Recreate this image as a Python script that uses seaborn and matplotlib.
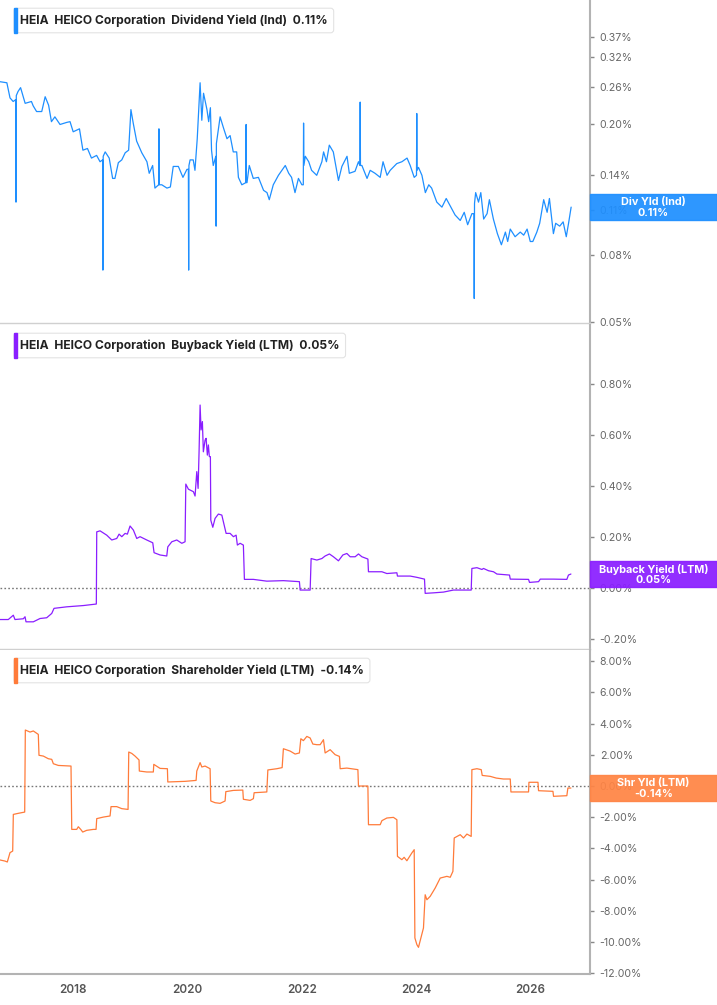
import numpy as np
import pandas as pd
import matplotlib
matplotlib.use("Agg")
import matplotlib.pyplot as plt
import seaborn as sns
from matplotlib.patches import Rectangle
from matplotlib.ticker import FixedLocator, NullLocator

# ---- data (decimal year, percent) ----
div_years = [2016.72, 2016.84, 2016.895, 2016.95, 2016.995, 2017.00, 2017.005, 2017.035, 2017.08, 2017.16,
             2017.27, 2017.30, 2017.36, 2017.45, 2017.51, 2017.57, 2017.62, 2017.68, 2017.77, 2017.89,
             2017.945, 2018.00, 2018.11, 2018.17, 2018.25, 2018.32, 2018.41, 2018.47, 2018.515, 2018.52,
             2018.525, 2018.56, 2018.63, 2018.69, 2018.73, 2018.79, 2018.85, 2018.91, 2018.97, 2019.01,
             2019.05, 2019.11, 2019.20, 2019.29, 2019.33, 2019.39, 2019.43, 2019.495, 2019.50, 2019.505,
             2019.55, 2019.64, 2019.70, 2019.75, 2019.84, 2019.92, 2019.99, 2020.015, 2020.02, 2020.025,
             2020.045, 2020.10, 2020.13, 2020.17, 2020.22, 2020.25, 2020.28, 2020.34, 2020.37, 2020.40,
             2020.42, 2020.45, 2020.495, 2020.50, 2020.505, 2020.57, 2020.63, 2020.69, 2020.745, 2020.80,
             2020.86, 2020.89, 2020.95, 2021.02, 2021.025, 2021.03, 2021.04, 2021.08, 2021.15, 2021.24,
             2021.33, 2021.39, 2021.43, 2021.50, 2021.59, 2021.71, 2021.77, 2021.82, 2021.88, 2021.94,
             2022.00, 2022.025, 2022.03, 2022.035, 2022.06, 2022.12, 2022.17, 2022.26, 2022.35, 2022.38,
             2022.43, 2022.48, 2022.55, 2022.64, 2022.70, 2022.79, 2022.83, 2022.93, 2022.99, 2023.015,
             2023.02, 2023.025, 2023.05, 2023.14, 2023.195, 2023.28, 2023.37, 2023.42, 2023.49, 2023.545,
             2023.66, 2023.75, 2023.84, 2023.895, 2023.965, 2024.005, 2024.01, 2024.015, 2024.04, 2024.10,
             2024.16, 2024.22, 2024.27, 2024.36, 2024.45, 2024.525, 2024.595, 2024.68, 2024.77, 2024.84,
             2024.90, 2024.975, 2025.01, 2025.015, 2025.02, 2025.04, 2025.09, 2025.13, 2025.18, 2025.24,
             2025.28, 2025.35, 2025.42, 2025.49, 2025.56, 2025.60, 2025.645, 2025.73, 2025.82, 2025.88,
             2025.94, 2025.995, 2026.04, 2026.11, 2026.16, 2026.23, 2026.29, 2026.33, 2026.36, 2026.40,
             2026.44, 2026.51, 2026.57, 2026.625, 2026.665, 2026.71]
div_yield = [0.270, 0.268, 0.241, 0.235, 0.238, 0.116, 0.245, 0.252, 0.259, 0.232,
             0.235, 0.228, 0.219, 0.219, 0.243, 0.229, 0.204, 0.211, 0.200, 0.203,
             0.204, 0.190, 0.194, 0.167, 0.169, 0.158, 0.161, 0.154, 0.156, 0.072,
             0.160, 0.165, 0.158, 0.137, 0.137, 0.153, 0.156, 0.164, 0.167, 0.222,
             0.202, 0.178, 0.164, 0.154, 0.142, 0.150, 0.128, 0.131, 0.194, 0.131,
             0.131, 0.128, 0.129, 0.149, 0.149, 0.138, 0.146, 0.146, 0.072, 0.150,
             0.156, 0.156, 0.145, 0.181, 0.268, 0.206, 0.249, 0.222, 0.204, 0.225,
             0.167, 0.150, 0.160, 0.098, 0.175, 0.211, 0.195, 0.181, 0.185, 0.165,
             0.165, 0.138, 0.131, 0.133, 0.200, 0.133, 0.133, 0.150, 0.137, 0.138,
             0.126, 0.124, 0.118, 0.131, 0.140, 0.150, 0.142, 0.138, 0.124, 0.137,
             0.131, 0.131, 0.202, 0.150, 0.160, 0.154, 0.145, 0.140, 0.154, 0.165,
             0.154, 0.173, 0.165, 0.135, 0.149, 0.160, 0.142, 0.144, 0.154, 0.150,
             0.234, 0.150, 0.150, 0.137, 0.145, 0.142, 0.138, 0.154, 0.140, 0.145,
             0.152, 0.154, 0.158, 0.150, 0.138, 0.140, 0.216, 0.145, 0.148, 0.140,
             0.124, 0.131, 0.128, 0.116, 0.112, 0.119, 0.113, 0.106, 0.102, 0.108,
             0.099, 0.107, 0.107, 0.059, 0.115, 0.124, 0.116, 0.124, 0.103, 0.107,
             0.118, 0.103, 0.093, 0.086, 0.094, 0.088, 0.096, 0.091, 0.094, 0.092,
             0.096, 0.088, 0.088, 0.094, 0.100, 0.118, 0.108, 0.119, 0.107, 0.093,
             0.100, 0.098, 0.101, 0.091, 0.100, 0.112]

buy_years = [2016.72, 2016.865, 2016.953, 2016.982, 2017.128, 2017.158, 2017.175, 2017.303, 2017.42, 2017.537,
             2017.625, 2017.665, 2017.887, 2018.178, 2018.405, 2018.412, 2018.47, 2018.587, 2018.675, 2018.762,
             2018.803, 2018.85, 2018.908, 2018.948, 2018.995, 2019.053, 2019.112, 2019.17, 2019.287, 2019.392,
             2019.415, 2019.52, 2019.637, 2019.655, 2019.725, 2019.812, 2019.90, 2019.957, 2019.97, 2020.015,
             2020.103, 2020.132, 2020.162, 2020.185, 2020.202, 2020.22, 2020.237, 2020.26, 2020.277, 2020.307,
             2020.325, 2020.347, 2020.365, 2020.382, 2020.40, 2020.407, 2020.442, 2020.482, 2020.54, 2020.60,
             2020.627, 2020.675, 2020.745, 2020.803, 2020.85, 2020.872, 2020.92, 2020.977, 2020.995, 2021.152,
             2021.387, 2021.677, 2021.957, 2021.97, 2022.145, 2022.162, 2022.262, 2022.35, 2022.407, 2022.482,
             2022.552, 2022.64, 2022.717, 2022.787, 2022.845, 2022.932, 2022.99, 2023.05, 2023.155, 2023.165,
             2023.40, 2023.487, 2023.662, 2023.672, 2023.895, 2024.012, 2024.145, 2024.157, 2024.302, 2024.477,
             2024.652, 2024.962, 2024.974, 2025.062, 2025.15, 2025.177, 2025.265, 2025.352, 2025.412, 2025.632,
             2025.645, 2025.965, 2025.982, 2026.14, 2026.17, 2026.40, 2026.635, 2026.663, 2026.706]
buy_yield = [-0.125, -0.125, -0.108, -0.125, -0.122, -0.114, -0.134, -0.134, -0.121, -0.118,
             -0.101, -0.081, -0.075, -0.070, -0.064, 0.220, 0.224, 0.207, 0.188, 0.194,
             0.211, 0.201, 0.214, 0.211, 0.243, 0.227, 0.194, 0.201, 0.188, 0.177,
             0.138, 0.129, 0.125, 0.161, 0.181, 0.188, 0.175, 0.181, 0.408, 0.388,
             0.378, 0.361, 0.457, 0.391, 0.535, 0.719, 0.621, 0.654, 0.535, 0.581,
             0.588, 0.522, 0.562, 0.516, 0.516, 0.266, 0.238, 0.273, 0.290, 0.286,
             0.260, 0.214, 0.214, 0.201, 0.207, 0.168, 0.175, 0.168, 0.033, 0.033,
             0.026, 0.028, 0.024, -0.009, -0.009, 0.115, 0.109, 0.115, 0.125, 0.133,
             0.122, 0.106, 0.129, 0.135, 0.122, 0.122, 0.133, 0.122, 0.113, 0.063,
             0.063, 0.056, 0.059, 0.046, 0.046, 0.041, 0.034, -0.022, -0.020, -0.017,
             -0.009, -0.009, 0.076, 0.079, 0.072, 0.076, 0.067, 0.063, 0.054, 0.050,
             0.034, 0.033, 0.021, 0.024, 0.034, 0.034, 0.033, 0.050, 0.054]

shr_years = [2016.72, 2016.807, 2016.848, 2016.895, 2016.942, 2016.953, 2017.04, 2017.152, 2017.163, 2017.245,
             2017.303, 2017.39, 2017.402, 2017.478, 2017.565, 2017.625, 2017.653, 2017.74, 2017.962, 2017.975,
             2018.062, 2018.09, 2018.132, 2018.167, 2018.237, 2018.353, 2018.40, 2018.412, 2018.528, 2018.645,
             2018.662, 2018.762, 2018.85, 2018.96, 2018.972, 2019.025, 2019.082, 2019.152, 2019.157, 2019.287,
             2019.402, 2019.41, 2019.52, 2019.648, 2019.655, 2019.957, 2020.15, 2020.162, 2020.22, 2020.25,
             2020.307, 2020.395, 2020.407, 2020.482, 2020.57, 2020.657, 2020.67, 2020.803, 2020.967, 2020.977,
             2021.095, 2021.152, 2021.165, 2021.387, 2021.405, 2021.562, 2021.655, 2021.677, 2021.795, 2021.882,
             2021.957, 2021.982, 2022.027, 2022.087, 2022.145, 2022.192, 2022.262, 2022.32, 2022.378, 2022.407,
             2022.495, 2022.582, 2022.657, 2022.67, 2022.787, 2022.98, 2022.99, 2023.155, 2023.165, 2023.37,
             2023.40, 2023.487, 2023.602, 2023.662, 2023.672, 2023.749, 2023.789, 2023.837, 2023.924, 2023.965,
             2023.977, 2024.012, 2024.04, 2024.082, 2024.127, 2024.157, 2024.187, 2024.245, 2024.332, 2024.42,
             2024.537, 2024.595, 2024.642, 2024.665, 2024.77, 2024.827, 2024.887, 2024.962, 2024.974, 2025.062,
             2025.137, 2025.155, 2025.295, 2025.40, 2025.527, 2025.645, 2025.657, 2025.965, 2025.972, 2026.13,
             2026.14, 2026.392, 2026.402, 2026.635, 2026.653, 2026.706]
shr_yield = [-4.74, -4.81, -4.87, -4.27, -4.17, -1.82, -1.75, -1.67, 3.59, 3.46,
             3.53, 3.31, 1.97, 1.92, 1.75, 1.71, 1.43, 1.32, 1.28, -2.78,
             -2.78, -2.61, -2.78, -2.95, -2.84, -2.78, -2.78, -2.09, -1.99, -1.92,
             -1.32, -1.32, -1.45, -1.50, 2.18, 2.09, 1.92, 1.67, 0.96, 0.90,
             0.90, 1.39, 1.13, 1.11, 0.26, 0.30, 0.36, 0.96, 1.50, 1.22,
             1.28, 1.11, -0.96, -1.07, -1.11, -0.96, -0.36, -0.28, -0.26, -0.85,
             -0.92, -0.81, -0.43, -0.38, 1.03, 1.11, 1.18, 2.39, 2.24, 2.05,
             2.12, 3.03, 2.91, 3.18, 3.08, 2.69, 2.65, 2.65, 2.97, 2.12,
             2.33, 2.01, 1.90, 1.11, 1.15, 1.05, 0.0, 0.0, -2.48, -2.48,
             -2.22, -2.05, -2.01, -2.16, -4.51, -4.72, -4.57, -4.79, -4.29, -4.08,
             -9.74, -10.17, -10.34, -9.74, -9.10, -6.97, -7.29, -7.07, -6.54, -5.90,
             -5.79, -5.85, -5.47, -3.33, -3.12, -3.33, -3.08, -3.23, 1.05, 1.11,
             1.05, 0.68, 0.62, 0.51, 0.45, 0.45, -0.38, -0.38, 0.24, 0.24,
             -0.30, -0.34, -0.66, -0.62, -0.13, -0.13]

div_ticks = [0.05, 0.08, 0.11, 0.14, 0.20, 0.26, 0.32, 0.37]
buy_ticks = [-0.20, 0.00, 0.20, 0.40, 0.60, 0.80]
shr_ticks = [-12, -10, -8, -6, -4, -2, 0, 2, 4, 6, 8]
year_ticks = [2018, 2020, 2022, 2024, 2026]

panels = [
    dict(x=div_years, y=div_yield, color="#1E8FFF", box="#1E8FFF",
         title="HEIA  HEICO Corporation  Dividend Yield (Ind)  0.11%",
         tag="Div Yld (Ind)", last="0.11%", ticks=div_ticks, fmt="{:.2f}%",
         ylim=(0.0495, 0.479), log=True, zero=False),
    dict(x=buy_years, y=buy_yield, color="#8A1EFF", box="#8A1EFF",
         title="HEIA  HEICO Corporation  Buyback Yield (LTM)  0.05%",
         tag="Buyback Yield (LTM)", last="0.05%", ticks=buy_ticks, fmt="{:.2f}%",
         ylim=(-0.239, 1.034), log=False, zero=True),
    dict(x=shr_years, y=shr_yield, color="#FF7B3A", box="#FF8444",
         title="HEIA  HEICO Corporation  Shareholder Yield (LTM)  -0.14%",
         tag="Shr Yld (LTM)", last="-0.14%", ticks=shr_ticks, fmt="{:.2f}%",
         ylim=(-12.05, 8.72), log=False, zero=True),
]

sns.set_style("white")
plt.rcParams["font.family"] = ["Inter", "DejaVu Sans"]

W, H = 717, 1005
fig = plt.figure(figsize=(W / 100, H / 100), dpi=100)

# panel rectangles in pixels: (top, bottom)
rows = [(0, 323.5), (325, 648.5), (650, 974)]
axes = []
for (top, bot), p in zip(rows, panels):
    ax = fig.add_axes([0, 1 - bot / H, 590 / W, (bot - top) / H])
    axes.append(ax)
    sns.lineplot(x=p["x"], y=p["y"], ax=ax, color=p["color"], linewidth=0.9,
                 estimator=None, sort=False)
    if p["log"]:
        ax.set_yscale("log")
    ax.set_ylim(*p["ylim"])
    ax.set_xlim(2016.72, 2027.04)
    ax.yaxis.set_major_locator(FixedLocator(p["ticks"]))
    ax.yaxis.set_minor_locator(NullLocator())
    ax.set_yticklabels([p["fmt"].format(t) for t in p["ticks"]])
    ax.yaxis.tick_right()
    ax.tick_params(axis="y", length=3, width=1, color="#888888", pad=4,
                   labelsize=7.6, labelcolor="#666666")
    for s in ["left", "top"]:
        ax.spines[s].set_visible(False)
    ax.spines["right"].set_color("#b3b3b3")
    ax.spines["right"].set_linewidth(1.5)
    ax.spines["bottom"].set_color("#d0d0d0")
    ax.spines["bottom"].set_linewidth(1.0)
    if p["zero"]:
        ax.axhline(0, color="#777777", linestyle=(0, (1.2, 1.6)), linewidth=1.0, zorder=1)
    ax.set_xlabel("")
    ax.set_ylabel("")
    ax.set_facecolor("white")

for ax in axes[:2]:
    ax.set_xticks([])
ax3 = axes[2]
ax3.set_xticks(year_ticks)
ax3.set_xticklabels([str(y) for y in year_ticks])
ax3.tick_params(axis="x", length=3, width=1, color="#888888", pad=4,
                labelsize=8.4, labelcolor="#555555")
for lab in ax3.get_xticklabels():
    lab.set_fontweight("semibold")
ax3.spines["bottom"].set_color("#b3b3b3")
ax3.spines["bottom"].set_linewidth(1.5)

# title boxes (top-left of each panel)
title_texts = []
for ax, (top, bot), p in zip(axes, rows, panels):
    t = fig.text(20 / W, 1 - (top + 20.5) / H, p["title"], ha="left", va="center",
                 fontsize=8.7, fontweight="bold", color="#222222",
                 bbox=dict(boxstyle="round,pad=0.5,rounding_size=0.25", fc="white",
                           ec="#e3e3e3", lw=0.8), zorder=5)
    title_texts.append(t)

fig.canvas.draw()
renderer = fig.canvas.get_renderer()
for t, p in zip(title_texts, panels):
    bb = t.get_bbox_patch().get_window_extent(renderer)
    fig.patches.append(Rectangle((bb.x0 / W, bb.y0 / H), 3 / W, bb.height / H,
                                 transform=fig.transFigure, color=p["color"], zorder=6))

# right-side value boxes
for ax, p in zip(axes, panels):
    last_x, last_y = p["x"][-1], p["y"][-1]
    _, ypix = ax.transData.transform((last_x, last_y))
    fig.patches.append(Rectangle((590 / W, (ypix - 13) / H), 127 / W, 26 / H,
                                 transform=fig.transFigure, color=p["box"], alpha=0.93, zorder=7))
    fig.text(653.5 / W, (ypix + 5) / H, p["tag"], ha="center", va="center", color="white",
             fontsize=7.8, fontweight="bold", zorder=8)
    fig.text(653.5 / W, (ypix - 5.5) / H, p["last"], ha="center", va="center", color="white",
             fontsize=7.8, fontweight="bold", zorder=8)

fig.savefig("out.png", dpi=100, facecolor="white")
